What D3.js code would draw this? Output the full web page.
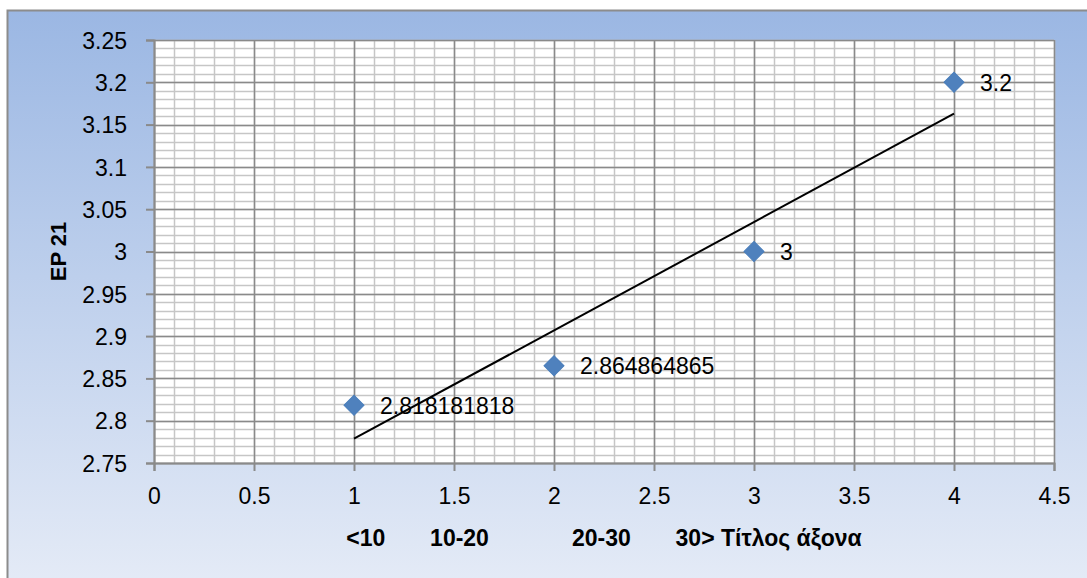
<!DOCTYPE html>
<html>
<head>
<meta charset="utf-8">
<script src="https://cdn.jsdelivr.net/npm/d3@7"></script>
<style>
  body { margin: 0; background: #fff; }
  text { font-family: "Liberation Sans", Arial, sans-serif; fill: #000; }
</style>
</head>
<body>
<div id="chart"></div>
<script>
// Data
// ==============================
var xValues = [1, 2, 3, 4];
var yValues = [2.818181818, 2.864864865, 3, 3.2];
var pointLabels = ["2.818181818", "2.864864865", "3", "3.2"];
var xTicks = [0, 0.5, 1, 1.5, 2, 2.5, 3, 3.5, 4, 4.5];
var yTicks = [2.75, 2.8, 2.85, 2.9, 2.95, 3, 3.05, 3.1, 3.15, 3.2, 3.25];
var xTitle = "<10       10-20             20-30       30> Τίτλος άξονα";
var yTitle = "EP 21";

// SVG area
// ==============================
var svgWidth = 1087;
var svgHeight = 578;

var margin = { top: 40, right: 33, bottom: 115, left: 154 };
var width = svgWidth - margin.left - margin.right;
var height = svgHeight - margin.top - margin.bottom;

var svg = d3.select("#chart")
  .append("svg")
  .attr("width", svgWidth)
  .attr("height", svgHeight);

// background gradient
var defs = svg.append("defs");
var grad = defs.append("linearGradient")
  .attr("id", "bg")
  .attr("x1", 0).attr("y1", 0).attr("x2", 0).attr("y2", 1);
grad.append("stop").attr("offset", "0%").attr("stop-color", "#9bb7e3");
grad.append("stop").attr("offset", "100%").attr("stop-color", "#e6ecf7");

svg.append("rect")
  .attr("x", 7.5).attr("y", 10.5)
  .attr("width", svgWidth + 20).attr("height", svgHeight + 10)
  .attr("fill", "url(#bg)")
  .attr("stroke", "#8c8c8c")
  .attr("stroke-width", 2);

var chartGroup = svg.append("g")
  .attr("transform", `translate(${margin.left}, ${margin.top})`);

// Scales
// ==============================
var xScale = d3.scaleLinear().domain([0, 4.5]).range([0, width]);
var yScale = d3.scaleLinear().domain([2.75, 3.25]).range([height, 0]);

chartGroup.append("rect")
  .attr("width", width).attr("height", height)
  .attr("fill", "#fff");

// minor grid
var minorX = d3.range(0, 4.5001, 0.1);
var minorY = d3.range(2.75, 3.25001, 0.01);

chartGroup.selectAll(".minorx")
  .data(minorX)
  .enter().append("line")
  .attr("x1", d => Math.round(xScale(d)) + 0.5)
  .attr("x2", d => Math.round(xScale(d)) + 0.5)
  .attr("y1", 0).attr("y2", height)
  .attr("stroke", "#c6c6c6").attr("stroke-width", 1.5);

chartGroup.selectAll(".minory")
  .data(minorY)
  .enter().append("line")
  .attr("y1", d => Math.round(yScale(d)) + 0.5)
  .attr("y2", d => Math.round(yScale(d)) + 0.5)
  .attr("x1", 0).attr("x2", width)
  .attr("stroke", "#c6c6c6").attr("stroke-width", 1.5);

// major grid
chartGroup.selectAll(".majorx")
  .data(xTicks)
  .enter().append("line")
  .attr("x1", d => Math.round(xScale(d)) + 0.5)
  .attr("x2", d => Math.round(xScale(d)) + 0.5)
  .attr("y1", 0).attr("y2", height)
  .attr("stroke", "#8a8a8a").attr("stroke-width", 1.5);

chartGroup.selectAll(".majory")
  .data(yTicks)
  .enter().append("line")
  .attr("y1", d => Math.round(yScale(d)) + 0.5)
  .attr("y2", d => Math.round(yScale(d)) + 0.5)
  .attr("x1", 0).attr("x2", width)
  .attr("stroke", "#8a8a8a").attr("stroke-width", 1.5);

// Axes
// ==============================
var fmt = d => String(+d.toFixed(2));

var xAxis = d3.axisBottom(xScale)
  .tickValues(xTicks).tickSize(8).tickPadding(17).tickFormat(fmt);
var yAxis = d3.axisLeft(yScale)
  .tickValues(yTicks).tickSize(8).tickPadding(19).tickFormat(fmt);

var gx = chartGroup.append("g")
  .attr("transform", `translate(0, ${height})`)
  .call(xAxis);
var gy = chartGroup.append("g")
  .call(yAxis);

[gx, gy].forEach(function(g) {
  g.select(".domain").attr("stroke", "#8a8a8a").attr("stroke-width", 2);
  g.selectAll(".tick line").attr("stroke", "#8a8a8a").attr("stroke-width", 2);
  g.selectAll(".tick text")
    .attr("font-family", "Liberation Sans, Arial, sans-serif")
    .attr("font-size", 23)
    .attr("fill", "#000");
});
gy.selectAll(".tick text").attr("dy", "0.36em");

// Trendline (linear least squares)
// ==============================
var xMean = d3.mean(xValues);
var yMean = d3.mean(yValues);
var slope = d3.sum(xValues, (x, i) => (x - xMean) * (yValues[i] - yMean)) /
            d3.sum(xValues, x => (x - xMean) * (x - xMean));
var intercept = yMean - slope * xMean;
var xExtent = d3.extent(xValues);

chartGroup.append("line")
  .attr("x1", xScale(xExtent[0]))
  .attr("y1", yScale(intercept + slope * xExtent[0]))
  .attr("x2", xScale(xExtent[1]))
  .attr("y2", yScale(intercept + slope * xExtent[1]))
  .attr("stroke", "#000")
  .attr("stroke-width", 2);

// Markers and labels
// ==============================
var points = xValues.map((x, i) => ({ x: x, y: yValues[i], label: pointLabels[i] }));
var diamond = d3.symbol().type(d3.symbolSquare).size(200);

chartGroup.selectAll(".marker")
  .data(points)
  .enter().append("path")
  .attr("d", diamond)
  .attr("transform", d => `translate(${xScale(d.x)}, ${yScale(d.y)}) rotate(45)`)
  .attr("fill", "#4f81bd")
  .attr("stroke", "#4a7ebb")
  .attr("stroke-width", 1);

chartGroup.selectAll(".plabel")
  .data(points)
  .enter().append("text")
  .attr("x", d => xScale(d.x) + 26)
  .attr("y", d => yScale(d.y))
  .attr("dy", "0.36em")
  .attr("font-size", 23)
  .text(d => d.label);

// Axis titles
// ==============================
chartGroup.append("text")
  .attr("x", width / 2)
  .attr("y", height + 83)
  .attr("text-anchor", "middle")
  .attr("font-size", 23)
  .attr("font-weight", "bold")
  .attr("xml:space", "preserve")
  .style("white-space", "pre")
  .text(xTitle);

chartGroup.append("text")
  .attr("transform", "rotate(-90)")
  .attr("x", -height / 2)
  .attr("y", 66 - margin.left)
  .attr("text-anchor", "middle")
  .attr("font-size", 22)
  .attr("font-weight", "bold")
  .text(yTitle);
</script>
</body>
</html>
